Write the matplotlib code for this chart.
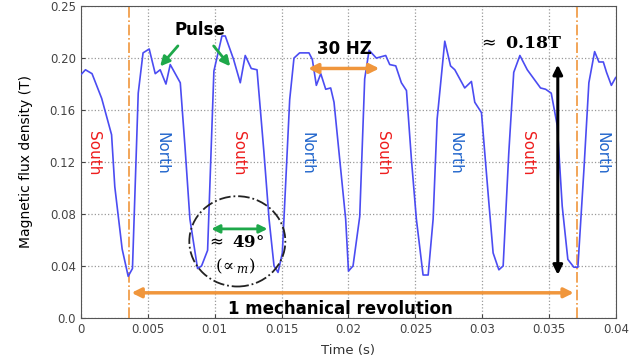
import numpy as np
import matplotlib
matplotlib.use('Agg')
import matplotlib.pyplot as plt
from matplotlib.patches import Ellipse

# flux density waveform
time_s = [0.0, 0.00036, 0.00085, 0.00157, 0.00231, 0.00255, 0.00310, 0.00355, 0.00387,
          0.00430, 0.00466, 0.00512, 0.00557, 0.00594, 0.00637, 0.00669, 0.00744, 0.00779,
          0.00816, 0.00873, 0.00903, 0.00948, 0.00995, 0.01055, 0.01080, 0.01142, 0.01192,
          0.01229, 0.01274, 0.01317, 0.01369, 0.01407, 0.01444, 0.01474, 0.01506, 0.01561,
          0.01593, 0.01635, 0.01705, 0.01730, 0.01760, 0.01793, 0.01830, 0.01867, 0.01892,
          0.01979, 0.02000, 0.02034, 0.02084, 0.02121, 0.02154, 0.02208, 0.02278, 0.02308,
          0.02353, 0.02395, 0.02433, 0.02470, 0.02507, 0.02557, 0.02595, 0.02632, 0.02662,
          0.02719, 0.02762, 0.02794, 0.02831, 0.02868, 0.02918, 0.02943, 0.02993, 0.03048,
          0.03080, 0.03123, 0.03155, 0.03197, 0.03234, 0.03280, 0.03335, 0.03434, 0.03472,
          0.03514, 0.03559, 0.03596, 0.03638, 0.03683, 0.03713, 0.03758, 0.03795, 0.03838,
          0.03870, 0.03903, 0.03927, 0.03963, 0.03995]
flux_T = [0.187, 0.191, 0.188, 0.169, 0.141, 0.101, 0.053, 0.032, 0.038,
          0.173, 0.204, 0.207, 0.188, 0.191, 0.180, 0.195, 0.181, 0.132,
          0.076, 0.038, 0.040, 0.052, 0.190, 0.217, 0.217, 0.199, 0.181,
          0.202, 0.192, 0.191, 0.127, 0.076, 0.040, 0.035, 0.050, 0.168,
          0.200, 0.204, 0.204, 0.199, 0.179, 0.188, 0.176, 0.177, 0.166,
          0.076, 0.036, 0.040, 0.078, 0.184, 0.206, 0.200, 0.202, 0.195,
          0.194, 0.181, 0.175, 0.122, 0.076, 0.033, 0.033, 0.076, 0.153,
          0.213, 0.194, 0.191, 0.184, 0.177, 0.182, 0.166, 0.158, 0.089,
          0.050, 0.037, 0.040, 0.127, 0.189, 0.202, 0.191, 0.177, 0.176,
          0.173, 0.148, 0.086, 0.045, 0.039, 0.039, 0.114, 0.181, 0.205,
          0.197, 0.197, 0.189, 0.179, 0.185]

xticks = [0, 0.005, 0.01, 0.015, 0.02, 0.025, 0.03, 0.035, 0.04]
xtick_labels = ['0', '0.005', '0.01', '0.015', '0.02', '0.025', '0.03', '0.035', '0.04']
yticks = [0, 0.04, 0.08, 0.12, 0.16, 0.20, 0.24]
ytick_labels = ['0.0', '0.04', '0.08', '0.12', '0.16', '0.20', '0.25']

south_t = [0.00093, 0.01182, 0.02253, 0.03335]
north_t = [0.00604, 0.01693, 0.02794, 0.03895]
rev_start, rev_end = 0.00359, 0.03703

orange = '#f0963c'
green = '#1ea84a'

fig = plt.figure(figsize=(6.4, 3.6), dpi=100)
ax = fig.add_axes([0.126, 0.117, 0.837, 0.866])

ax.plot(time_s, flux_T, color='#4b4cf2', lw=1.2, zorder=3)

ax.set_xlim(0, 0.04)
ax.set_ylim(0, 0.24)
ax.set_xticks(xticks)
ax.set_xticklabels(xtick_labels)
ax.set_yticks(yticks)
ax.set_yticklabels(ytick_labels)
ax.tick_params(direction='in', labelsize=8.5, colors='#444444', length=3)
ax.grid(True, ls=':', color='#999999', lw=0.9)
for s in ax.spines.values():
    s.set_color('#555555')

ax.set_xlabel('Time (s)', fontsize=9.5, color='#333333', labelpad=6)
ax.set_ylabel('Magnetic flux density (T)', fontsize=10, labelpad=12)

# pole labels
for t in south_t:
    ax.text(t, 0.127, 'South', color='#ee1c1c', fontsize=11, rotation=-90,
            ha='center', va='center')
for t in north_t:
    ax.text(t, 0.127, 'North', color='#2266cc', fontsize=11, rotation=-90,
            ha='center', va='center')

# one mechanical revolution
for t in [rev_start, rev_end]:
    ax.axvline(t, color=orange, ls='-.', lw=1.2, zorder=2)
ax.annotate('', xy=(rev_start, 0.0193), xytext=(rev_end, 0.0193),
            arrowprops=dict(arrowstyle='<|-|>', color=orange, lw=2.5, mutation_scale=14))
ax.text(0.0194, 0.0065, '1 mechanical revolution', fontsize=12, fontweight='bold',
        ha='center', va='center')

# pulse
ax.text(0.0089, 0.222, 'Pulse', fontsize=12, fontweight='bold', ha='center', va='center')
ax.annotate('', xy=(0.0058, 0.192), xytext=(0.0074, 0.211),
            arrowprops=dict(arrowstyle='-|>', color=green, lw=2, mutation_scale=14))
ax.annotate('', xy=(0.0113, 0.192), xytext=(0.0098, 0.211),
            arrowprops=dict(arrowstyle='-|>', color=green, lw=2, mutation_scale=14))

# 30 Hz
ax.text(0.0197, 0.207, '30 HZ', fontsize=12, fontweight='bold', ha='center', va='center')
ax.annotate('', xy=(0.01678, 0.192), xytext=(0.02251, 0.192),
            arrowprops=dict(arrowstyle='<|-|>', color=orange, lw=2.5, mutation_scale=14))

# amplitude
ax.text(0.0328, 0.211, r'$\approx$ 0.18T', fontsize=12.5, fontweight='bold',
        family='DejaVu Serif', ha='center', va='center')
ax.annotate('', xy=(0.03563, 0.197), xytext=(0.03563, 0.031),
            arrowprops=dict(arrowstyle='<|-|>', color='black', lw=2.2, mutation_scale=14))

# pole arc
ax.add_patch(Ellipse((0.0117, 0.0589), 0.00717, 0.0695, fill=False, ls='-.',
                     ec='#222222', lw=1.3, zorder=4))
ax.annotate('', xy=(0.00955, 0.0685), xytext=(0.01416, 0.0685),
            arrowprops=dict(arrowstyle='<|-|>', color=green, lw=2, mutation_scale=12))
ax.text(0.01155, 0.058, r'$\approx$ 49°', fontsize=12, fontweight='bold',
        family='DejaVu Serif', ha='center', va='center')
ax.text(0.01155, 0.0396, r'$(\!\propto_{m})$', fontsize=12, ha='center', va='center',
        math_fontfamily='dejavuserif')

fig.savefig('out.png', dpi=100)
